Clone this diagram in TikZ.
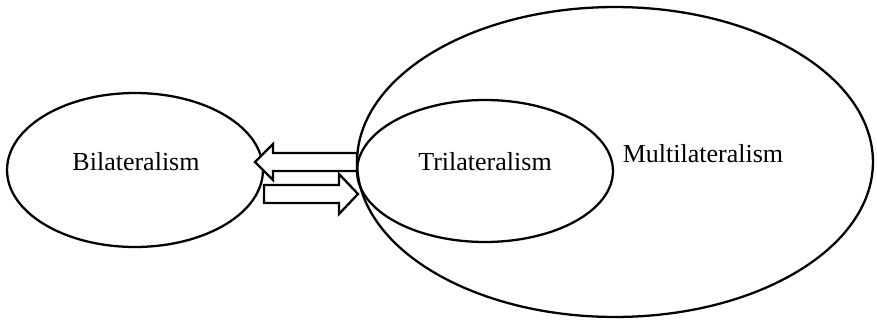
\documentclass[tikz,border=0pt]{standalone}
\usepackage{fontspec}
\setmainfont{Liberation Serif}
\usetikzlibrary{shapes.geometric}

\begin{document}
\begin{tikzpicture}[x=0.02cm, y=-0.02cm,
    circ/.style={draw, ellipse, line width=1.3pt, inner sep=0pt},
    lbl/.style={font=\fontsize{14.8}{17}\selectfont, inner sep=0pt},
    blockarrow/.style={draw, fill=white, line width=1.3pt}
]
  \useasboundingbox (0,0) rectangle (877,321);

  % Ellipsen
  \node[circ, minimum width=10.32cm, minimum height=6.2cm] (multi) at (615,162) {};
  \node[circ, minimum width=5.12cm, minimum height=2.84cm] (tri) at (485,171) {};
  \node[circ, minimum width=5.12cm, minimum height=3.08cm] (bi) at (135,170) {};

  % Beschriftungen
  \node[lbl] (bilabel) at (136,162) {Bilateralism};
  \node[lbl] (trilabel) at (485,162) {Trilateralism};
  \node[lbl] (multilabel) at (703,154) {Multilateralism};

  % Pfeilspitzen
  \coordinate (tipbi) at (255,162);
  \coordinate (tiptri) at (358,194);

  % Pfeile
  \draw[blockarrow] (tipbi) -- ++(18,-18) -- ++(0,9) -- ++(84,0) -- ++(0,18)
      -- ++(-84,0) -- ++(0,9) -- cycle;
  \draw[blockarrow] (tiptri) -- ++(-19,-20) -- ++(0,11) -- ++(-75,0) -- ++(0,18)
      -- ++(75,0) -- ++(0,11) -- cycle;

\end{tikzpicture}
\end{document}
